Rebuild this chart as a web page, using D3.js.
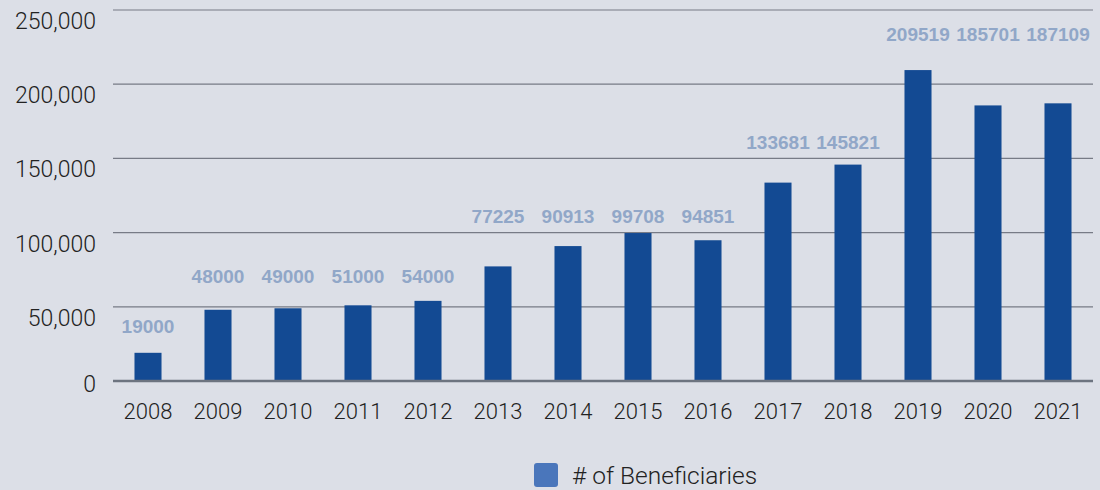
<!DOCTYPE html>
<html>
<head>
<meta charset="utf-8">
<script src="https://cdn.jsdelivr.net/npm/d3@7"></script>
<style>
  body { margin: 0; background: #dcdfe7; }
  svg { display: block; font-family: Roboto, "Liberation Sans", Arial, sans-serif; }
</style>
</head>
<body>
<script>
// beneficiaries per year
const years = ["2008", "2009", "2010", "2011", "2012", "2013", "2014", "2015", "2016", "2017", "2018", "2019", "2020", "2021"];
const beneficiaries = [19000, 48000, 49000, 51000, 54000, 77225, 90913, 99708, 94851, 133681, 145821, 209519, 185701, 187109];
// value level (in data units) where each bar's label sits
const labelLevel = [37000, 70700, 70700, 70700, 70700, 111000, 111000, 111000, 111000, 161000, 161000, 234000, 234000, 234000];
const yTicks = [0, 50000, 100000, 150000, 200000, 250000];
const seriesName = "# of Beneficiaries";

const width = 1100, height = 490;
const margin = {top: 10, right: 7, bottom: 109, left: 113};

const svg = d3.select("body")
    .append("svg")
    .attr("width", width)
    .attr("height", height);

const x = d3.scaleBand()
    .domain(years)
    .range([margin.left, width - margin.right])
    .paddingInner(0.614)
    .paddingOuter(0.307);

const y = d3.scaleLinear()
    .domain([0, 250000])
    .range([height - margin.bottom, margin.top]);

// gridlines
svg.append("g")
    .selectAll("line")
    .data(yTicks.filter(d => d > 0))
    .enter()
    .append("line")
    .attr("x1", margin.left)
    .attr("x2", width - margin.right)
    .attr("y1", d => y(d))
    .attr("y2", d => y(d))
    .attr("stroke", "#777b86")
    .attr("stroke-width", 1.2);

// y tick labels (sit just under their gridline, zero sits on the baseline)
svg.append("g")
    .selectAll("text")
    .data(yTicks)
    .enter()
    .append("text")
    .attr("x", 96)
    .attr("y", d => y(d) + (d === 0 ? 11 : 19))
    .attr("text-anchor", "end")
    .attr("font-size", 23)
    .attr("font-weight", 300)
    .attr("fill", "#222")
    .text(d => d === 0 ? "0" : d3.format(",")(d));

// bars
svg.append("g")
    .selectAll("rect")
    .data(beneficiaries)
    .enter()
    .append("rect")
    .attr("x", (d, i) => x(years[i]))
    .attr("y", d => y(d))
    .attr("width", x.bandwidth())
    .attr("height", d => y(0) - y(d))
    .attr("fill", "#134a93");

// baseline
svg.append("line")
    .attr("x1", margin.left)
    .attr("x2", width - margin.right)
    .attr("y1", y(0))
    .attr("y2", y(0))
    .attr("stroke", "#6d7480")
    .attr("stroke-width", 2.5);

// value labels
svg.append("g")
    .selectAll("text")
    .data(beneficiaries)
    .enter()
    .append("text")
    .attr("x", (d, i) => x(years[i]) + x.bandwidth() / 2)
    .attr("y", (d, i) => y(labelLevel[i]) + 7)
    .attr("text-anchor", "middle")
    .attr("font-family", "'Liberation Sans', Arial, sans-serif")
    .attr("font-size", 19)
    .attr("font-weight", "bold")
    .attr("fill", "#91a7c8")
    .text(d => d);

// year labels
svg.append("g")
    .selectAll("text")
    .data(years)
    .enter()
    .append("text")
    .attr("x", d => x(d) + x.bandwidth() / 2)
    .attr("y", 419)
    .attr("text-anchor", "middle")
    .attr("font-size", 22)
    .attr("font-weight", 300)
    .attr("fill", "#222")
    .text(d => d);

// legend
const legend = svg.append("g");
legend.append("rect")
    .attr("x", 534)
    .attr("y", 463)
    .attr("width", 24)
    .attr("height", 24)
    .attr("rx", 3)
    .attr("fill", "#4a76bb");
legend.append("text")
    .attr("x", 572)
    .attr("y", 484)
    .attr("font-size", 24.5)
    .attr("font-weight", 300)
    .attr("fill", "#222")
    .text(seriesName);
</script>
</body>
</html>
